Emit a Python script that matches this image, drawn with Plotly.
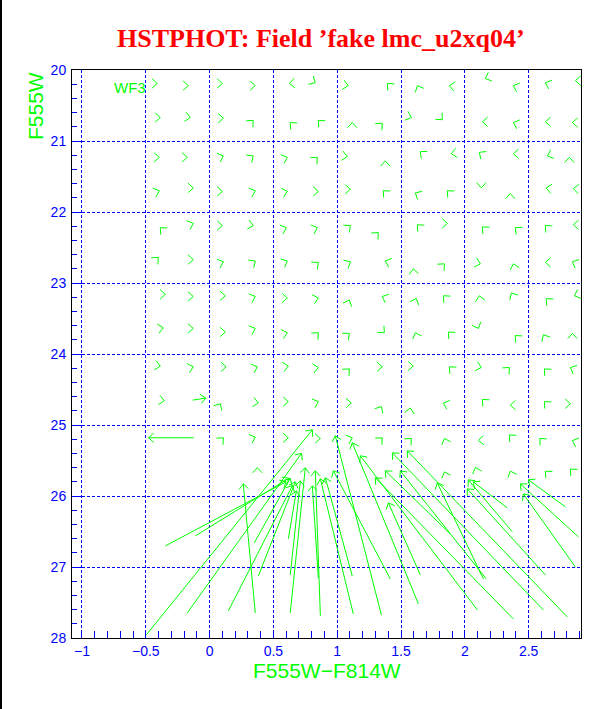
import math
import plotly.graph_objects as go

# ---------------- data ----------------
title_text = "HSTPHOT: Field \u2019fake lmc_u2xq04\u2019"
x_title = "F555W\u2212F814W"
y_title = "F555W"
chip_label = "WF3"

# small (nearly zero-length) shift vectors: tip position and direction (deg, screen)
row_x = [
    [-0.410, -0.167, 0.100, 0.358, 0.625, 0.828, 1.087, 1.393, 1.628, 1.879, 2.160, 2.380, 2.631, 2.866],
    [-0.386, -0.151, 0.108, 0.342, 0.632, 0.852, 1.118, 1.353, 1.581, 1.824, 2.138, 2.380, 2.631, 2.843],
    [-0.394, -0.175, 0.108, 0.342, 0.609, 0.844, 1.079, 1.377, 1.651, 1.894, 2.113, 2.380, 2.647, 2.819],
    [-0.394, -0.128, 0.100, 0.358, 0.609, 0.852, 1.103, 1.361, 1.612, 1.863, 2.129, 2.356, 2.638, 2.850],
    [-0.386, -0.128, 0.100, 0.342, 0.601, 0.844, 1.103, 1.322, 1.628, 1.863, 2.138, 2.395, 2.631, 2.850],
    [-0.402, -0.128, 0.108, 0.358, 0.609, 0.852, 1.103, 1.377, 1.596, 1.840, 2.122, 2.380, 2.631, 2.843],
    [-0.347, -0.128, 0.123, 0.358, 0.609, 0.852, 1.095, 1.353, 1.620, 1.832, 2.113, 2.364, 2.638, 2.858],
    [-0.363, -0.128, 0.123, 0.358, 0.609, 0.852, 1.095, 1.369, 1.612, 1.871, 2.106, 2.395, 2.615, 2.843],
    [-0.386, -0.128, 0.130, 0.374, 0.617, 0.852, 1.095, 1.353, 1.596, 1.879, 2.129, 2.349, 2.623, 2.827],
    [-0.355, 0.084, 0.382, 0.617, 0.852, 1.110, 1.346, 1.573, 1.832, 2.138, 2.356, 2.623, 2.827],
    [0.108, 0.358, 0.617, 0.868, 1.118, 1.353, 1.581, 1.840, 2.106, 2.349, 2.587, 2.843],
    [0.374, 1.840, 2.082, 2.356, 2.631, 2.827],
]
row_y = [
    [20.19, 20.22, 20.19, 20.22, 20.19, 20.18, 20.22, 20.19, 20.22, 20.22, 20.12, 20.22, 20.18, 20.15],
    [20.67, 20.67, 20.68, 20.71, 20.74, 20.71, 20.74, 20.75, 20.67, 20.70, 20.73, 20.74, 20.73, 20.74],
    [21.23, 21.23, 21.21, 21.21, 21.23, 21.23, 21.22, 21.28, 21.15, 21.18, 21.16, 21.18, 21.21, 21.23],
    [21.70, 21.66, 21.71, 21.70, 21.71, 21.71, 21.68, 21.70, 21.73, 21.70, 21.66, 21.74, 21.66, 21.67],
    [22.22, 22.16, 22.19, 22.19, 22.22, 22.22, 22.19, 22.29, 22.18, 22.16, 22.21, 22.22, 22.19, 22.18],
    [22.64, 22.67, 22.70, 22.69, 22.69, 22.71, 22.70, 22.69, 22.80, 22.73, 22.73, 22.73, 22.71, 22.70],
    [23.16, 23.19, 23.18, 23.19, 23.21, 23.21, 23.24, 23.19, 23.22, 23.18, 23.18, 23.14, 23.22, 23.18],
    [23.63, 23.64, 23.69, 23.64, 23.70, 23.70, 23.71, 23.70, 23.70, 23.69, 23.64, 23.74, 23.73, 23.71],
    [24.17, 24.18, 24.18, 24.18, 24.17, 24.19, 24.21, 24.18, 24.17, 24.18, 24.19, 24.19, 24.21, 24.19],
    [24.66, 24.70, 24.69, 24.67, 24.67, 24.69, 24.74, 24.76, 24.69, 24.64, 24.72, 24.67, 24.70],
    [25.18, 25.17, 25.18, 25.19, 25.18, 25.18, 25.19, 25.19, 25.22, 25.14, 25.19, 25.22],
    [25.60, 25.66, 25.60, 25.65, 25.65, 25.62],
]
row_dir = [
    [0, 0, 0, 0, 185, -30, -10, 135, 115, 170, 202, 160, 160, 180],
    [0, -10, 0, 45, 135, 135, 90, 45, -20, 315, 180, 160, 180, 180],
    [0, 0, 20, 35, 20, 45, -10, 90, 140, 190, 145, 180, 200, 90],
    [20, 0, 0, 20, 15, 0, 0, 135, 150, 135, 270, 90, 170, 175],
    [135, 20, 0, -10, 20, 20, 40, 45, 135, 0, 135, 140, 135, 180],
    [45, 0, 20, 35, 25, 40, 30, 160, 95, 45, -15, 105, 180, 155],
    [0, 0, 0, 20, 0, 15, 67, 157, 67, 135, 100, 120, 135, 200],
    [10, 0, 0, 20, 15, 45, 40, 315, 110, 135, 292, 135, 120, 90],
    [-10, 15, 0, 20, 10, 10, 45, 0, 0, 135, -15, 45, 135, 155],
    [-10, 60, -10, 0, 20, 0, 60, 80, 160, 135, 180, 135, 0],
    [45, 20, 0, 0, 20, 45, 45, 110, 185, 135, 135, 160],
    [90, 110, 110, 112, 135, 135],
]

# long shift vectors: from (x0, y0) to arrow tip (x1, y1)
long_x0 = [-0.125, -0.133, -0.496, -0.175, -0.347, -0.112, 0.147, 0.358, 0.350, 0.382,
           0.632, 0.868, 1.126, 1.346, 1.636, 0.632, 0.852, 1.118, 1.416, 0.617,
           2.098, 2.380, 2.615, 2.803, 2.631, 2.866, 2.890, 2.788, 2.333, 2.372,
           1.651, 2.168, 1.886, 2.145]
long_y0 = [25.18, 24.65, 27.957, 27.647, 26.703, 26.562, 27.619, 27.647, 26.661, 27.126,
           27.647, 27.689, 27.661, 27.675, 27.520, 27.112, 27.154, 27.126, 27.168, 26.604,
           27.605, 27.731, 27.605, 27.703, 27.112, 26.999, 26.576, 26.153, 26.167, 26.505,
           27.112, 27.168, 26.533, 27.168]
long_x1 = [-0.478, -0.030, 0.805, 0.720, 0.600, 0.620, 0.650, 0.264, 0.632, 0.672,
           0.750, 0.828, 0.868, 0.985, 1.118, 0.711, 0.805, 0.907, 0.970, 0.680,
           1.181, 1.299, 1.432, 1.549, 2.019, 2.458, 2.435, 2.498, 2.066, 2.027,
           1.401, 1.494, 1.377, 1.784]
long_y1 = [25.18, 24.62, 25.068, 25.400, 25.800, 25.750, 25.850, 25.829, 25.750, 25.800,
           25.603, 25.646, 25.758, 25.152, 25.251, 25.787, 25.857, 25.744, 25.646, 25.928,
           25.434, 25.744, 25.392, 25.364, 25.899, 25.970, 25.829, 25.772, 25.801, 25.772,
           26.097, 25.646, 25.646, 25.815]

x_tickvals = [-1, -0.5, 0, 0.5, 1, 1.5, 2, 2.5]
y_tickvals = [20, 21, 22, 23, 24, 25, 26, 27, 28]

# ---------------- layout constants ----------------
W, H = 612, 709
ML, MR, MT, MB = 72, 31, 70, 71
X_RANGE = [-1.078, 2.91]
Y_RANGE = [28, 20]
GREEN = "#00ff00"
BLUE = "#0000ff"
HEAD_LEN = 7.0
HEAD_HALF = math.radians(42)

plot_w = W - ML - MR
plot_h = H - MT - MB
kx = plot_w / (X_RANGE[1] - X_RANGE[0])
ky = plot_h / (Y_RANGE[0] - Y_RANGE[1])


def head_pts(xt, yt, ang):
    pts = []
    for s in (1, -1):
        a = ang + math.pi + s * HEAD_HALF
        pts.append((xt + HEAD_LEN * math.cos(a) / kx, yt - HEAD_LEN * math.sin(a) / ky))
    return pts


xs, ys = [], []
for rx, ry, rd in zip(row_x, row_y, row_dir):
    for x, y, d in zip(rx, ry, rd):
        p1, p2 = head_pts(x, y, math.radians(d))
        xs += [p1[0], x, p2[0], None]
        ys += [p1[1], y, p2[1], None]

for x0, y0, x1, y1 in zip(long_x0, long_y0, long_x1, long_y1):
    ang = math.atan2(-(y1 - y0) * ky, (x1 - x0) * kx)
    p1, p2 = head_pts(x1, y1, ang)
    xs += [x0, x1, None, p1[0], x1, p2[0], None]
    ys += [y0, y1, None, p1[1], y1, p2[1], None]

fig = go.Figure()
fig.add_trace(go.Scatter(x=xs, y=ys, mode="lines", line=dict(color=GREEN, width=1),
                         hoverinfo="skip", showlegend=False, connectgaps=False))

axis_font = dict(family="Liberation Sans, Arial, sans-serif", size=14, color=BLUE)
fig.update_xaxes(range=X_RANGE, tickvals=x_tickvals, ticktext=[f"{v:g}".replace("-", "\u2212") for v in x_tickvals],
                 ticks="inside", ticklen=8, tickcolor=BLUE, tickwidth=1,
                 minor=dict(dtick=0.1, ticks="inside", ticklen=7, tickcolor=BLUE, showgrid=False),
                 showgrid=True, gridcolor=BLUE, gridwidth=1, griddash="3px,2px",
                 showline=True, linecolor="black", linewidth=1, mirror=True,
                 zeroline=False, tickfont=axis_font)
fig.update_yaxes(range=Y_RANGE, tickvals=y_tickvals,
                 ticks="inside", ticklen=10, tickcolor=BLUE, tickwidth=1, ticklabelstandoff=2,
                 minor=dict(dtick=0.2, ticks="inside", ticklen=5, tickcolor=BLUE, showgrid=False),
                 showgrid=True, gridcolor=BLUE, gridwidth=1, griddash="3px,2px",
                 showline=True, linecolor="black", linewidth=1, mirror=True,
                 zeroline=False, tickfont=axis_font)

fig.update_layout(
    width=W, height=H, margin=dict(l=ML, r=MR, t=MT, b=MB, pad=0),
    paper_bgcolor="white", plot_bgcolor="white", showlegend=False,
    annotations=[
        dict(text="<b>" + title_text + "</b>", x=(321 - ML) / plot_w, y=(H - MB - 38) / plot_h,
             xref="paper", yref="paper", xanchor="center", yanchor="middle", showarrow=False,
             font=dict(family="Liberation Serif, Times New Roman, serif", size=26, color="#ff0000")),
        dict(text=x_title, x=0.5, y=-(670 - (H - MB)) / plot_h, xref="paper", yref="paper",
             xanchor="center", yanchor="middle", showarrow=False,
             font=dict(family="Liberation Sans, Arial, sans-serif", size=21, color=GREEN)),
        dict(text=y_title, x=-(ML - 35) / plot_w, y=1.0, xref="paper", yref="paper",
             xanchor="center", yanchor="top", textangle=-90, showarrow=False,
             font=dict(family="Liberation Sans, Arial, sans-serif", size=21, color=GREEN)),
        dict(text=chip_label, x=(112 - ML) / plot_w, y=(H - MB - 88) / plot_h, xref="paper", yref="paper",
             xanchor="left", yanchor="middle", showarrow=False,
             font=dict(family="Liberation Sans, Arial, sans-serif", size=15, color=GREEN)),
    ],
    shapes=[dict(type="line", xref="paper", yref="paper", x0=(1 - ML) / plot_w, x1=(1 - ML) / plot_w,
                 y0=-(MB) / plot_h, y1=(H - MB) / plot_h, line=dict(color="black", width=2))],
)

fig.write_html("out.html", config={"displayModeBar": False, "staticPlot": True},
               post_script="document.body.style.margin='0px';document.body.style.overflow='hidden';")
